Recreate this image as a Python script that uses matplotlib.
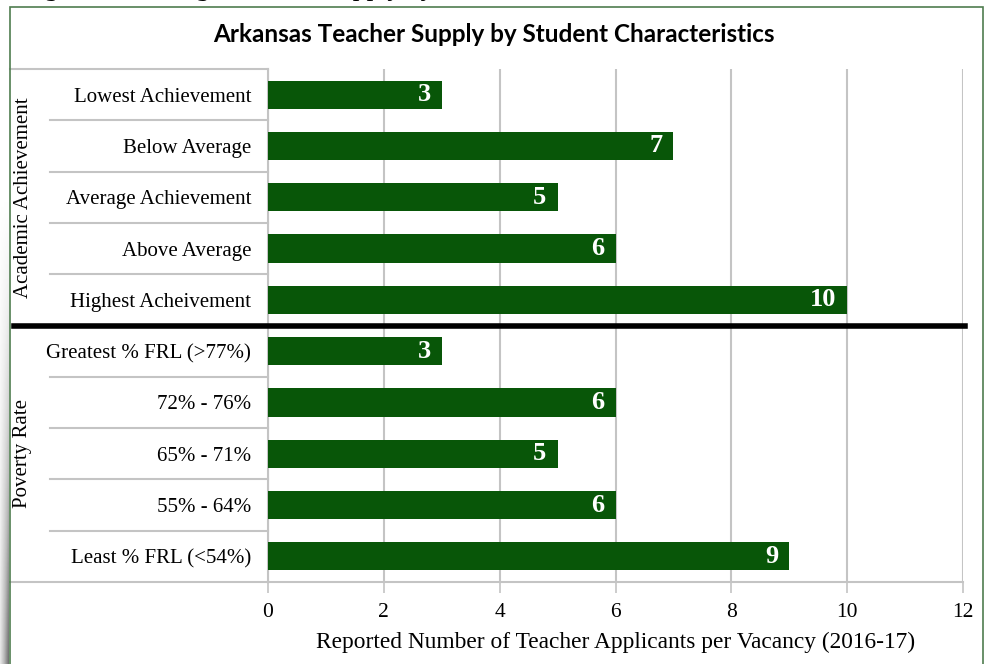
import numpy as np
import matplotlib
matplotlib.use("Agg")
import matplotlib.pyplot as plt
import matplotlib.transforms as mtransforms
from matplotlib.patches import Rectangle

# data
categories = ["Lowest Achievement", "Below Average", "Average Achievement",
              "Above Average", "Highest Acheivement",
              "Greatest % FRL (>77%)", "72% - 76%", "65% - 71%",
              "55% - 64%", "Least % FRL (<54%)"]
values = [3, 7, 5, 6, 10, 3, 6, 5, 6, 9]
groups = ["Academic Achievement", "Poverty Rate"]
group_rows = [(0, 4), (5, 9)]
xticks = [0, 2, 4, 6, 8, 10, 12]

W, H = 988, 664
bar_color = "#085608"
grid_color = "#c4c4c4"
serif = "Liberation Serif"

fig = plt.figure(figsize=(W / 100, H / 100), dpi=100)
fig.patch.set_facecolor("white")

def fx(px):
    return px / W

def fy(py):
    return 1 - py / H

# outer frame
fig.patches.append(Rectangle((fx(10), -0.05), fx(983) - fx(10), fy(7) + 0.05,
                             transform=fig.transFigure, fill=False,
                             edgecolor="#4f7d4f", linewidth=1.2))

# caption above the frame, mostly cut off by the top edge as in the source
fig.text(fx(22), 1 + 5 / H, "Figure 7: Average Teacher Supply by Student Characteristics",
         family=serif, style="italic", fontsize=20, va="baseline", ha="left")

# left shadow strip
sh = fig.add_axes([0, 0, fx(8), fy(200)])
grad = np.linspace(0, 1, 100).reshape(-1, 1) * np.linspace(0.3, 1, 8).reshape(1, -1)
sh.imshow(grad, aspect="auto", cmap="Greys", vmin=0, vmax=1.6)
sh.axis("off")

ax = fig.add_axes([fx(268), fy(582), fx(963) - fx(268), fy(69) - fy(582)])
y = np.arange(len(categories))
ax.barh(y, values, height=0.55, color=bar_color, zorder=3)
ax.set_ylim(len(categories) - 0.5, -0.5)
ax.set_xlim(0, 12)

for yi, v in zip(y, values):
    ax.annotate(str(v), (v, yi), xytext=(-8, 0), textcoords="offset points",
                ha="right", va="center", color="white", fontsize=19,
                fontweight="bold", family=serif, zorder=4)

ax.set_xticks(xticks)
ax.set_xticklabels([str(t) for t in xticks], family=serif, fontsize=15.5)
ax.tick_params(axis="x", length=8, width=1.2, color=grid_color, pad=7)
ax.set_yticks(y)
ax.set_yticklabels(categories, family=serif, fontsize=15)
ax.tick_params(axis="y", length=0, pad=12)
ax.grid(axis="x", color=grid_color, linewidth=1.5, zorder=0)
for s in ["top", "right"]:
    ax.spines[s].set_visible(False)
for s in ["left", "bottom"]:
    ax.spines[s].set_color(grid_color)
    ax.spines[s].set_linewidth(1.5)

ax.set_xlabel("Reported Number of Teacher Applicants per Vacancy (2016-17)",
              family=serif, fontsize=16.8, labelpad=7)

# label-area table lines
tr = mtransforms.blended_transform_factory(fig.transFigure, ax.transData)
for b in np.arange(0.5, len(categories) - 1, 1.0):
    if b == 4.5:
        continue
    ax.plot([fx(50), fx(268)], [b, b], transform=tr, color=grid_color,
            linewidth=1.5, clip_on=False)
ax.plot([fx(10), fx(268)], [-0.5, -0.5], transform=tr, color=grid_color,
        linewidth=1.5, clip_on=False)
ax.plot([fx(10), fx(268)], [9.5, 9.5], transform=tr, color=grid_color,
        linewidth=1.5, clip_on=False)
# thick divider between the two groups
ax.plot([fx(14), fx(965)], [4.5, 4.5], transform=tr, color="black",
        linewidth=4, clip_on=False, zorder=5)

for name, (a, b) in zip(groups, group_rows):
    ax.text(fx(23), (a + b) / 2, name, transform=tr, rotation=90,
            ha="center", va="center", family=serif, fontsize=15)

fig.text(0.5, fy(35), "Arkansas Teacher Supply by Student Characteristics",
         ha="center", va="center", family="Lato", fontweight="bold", fontsize=17.5)

fig.savefig("out.png", dpi=100)
